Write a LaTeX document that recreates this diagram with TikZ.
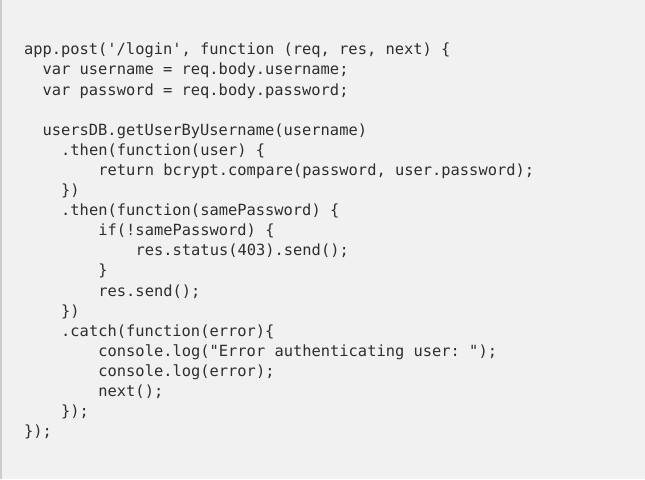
\documentclass[tikz,border=0pt]{standalone}
\usepackage{fontspec}
\setmonofont{DejaVu Sans Mono}
\definecolor{bgc}{HTML}{F1F1F1}
\definecolor{edgec}{HTML}{CCCCCC}
\definecolor{codec}{HTML}{2E2E2E}
\tikzset{
  codeline/.style={anchor=base west, inner sep=0pt, outer sep=0pt, text=codec,
    font=\ttfamily\fontsize{11.55}{14}\selectfont}
}
\newcommand{\cw}{9.3}
\newcommand{\lh}{20.1}
\begin{document}
\begin{tikzpicture}[x=0.75pt,y=-0.75pt]
\fill[bgc] (0,0) rectangle (645,479);
\fill[edgec] (0,0) rectangle (1.6,479);
\useasboundingbox (0,0) rectangle (645,479);
\node[codeline] (l1)  at ({24+\cw*0},{54.8+\lh*0})  {app.post('/login', function (req, res, next) \{};
\node[codeline] (l2)  at ({24+\cw*2},{54.8+\lh*1})  {var username = req.body.username;};
\node[codeline] (l3)  at ({24+\cw*2},{54.8+\lh*2})  {var password = req.body.password;};
\node[codeline] (l5)  at ({24+\cw*2},{54.8+\lh*4})  {usersDB.getUserByUsername(username)};
\node[codeline] (l6)  at ({24+\cw*4},{54.8+\lh*5})  {.then(function(user) \{};
\node[codeline] (l7)  at ({24+\cw*8},{54.8+\lh*6})  {return bcrypt.compare(password, user.password);};
\node[codeline] (l8)  at ({24+\cw*4},{54.8+\lh*7})  {\})};
\node[codeline] (l9)  at ({24+\cw*4},{54.8+\lh*8})  {.then(function(samePassword) \{};
\node[codeline] (l10) at ({24+\cw*8},{54.8+\lh*9})  {if(!samePassword) \{};
\node[codeline] (l11) at ({24+\cw*12},{54.8+\lh*10}) {res.status(403).send();};
\node[codeline] (l12) at ({24+\cw*8},{54.8+\lh*11}) {\}};
\node[codeline] (l13) at ({24+\cw*8},{54.8+\lh*12}) {res.send();};
\node[codeline] (l14) at ({24+\cw*4},{54.8+\lh*13}) {\})};
\node[codeline] (l15) at ({24+\cw*4},{54.8+\lh*14}) {.catch(function(error)\{};
\node[codeline] (l16) at ({24+\cw*8},{54.8+\lh*15}) {console.log("Error authenticating user: ");};
\node[codeline] (l17) at ({24+\cw*8},{54.8+\lh*16}) {console.log(error);};
\node[codeline] (l18) at ({24+\cw*8},{54.8+\lh*17}) {next();};
\node[codeline] (l19) at ({24+\cw*4},{54.8+\lh*18}) {\});};
\node[codeline] (l20) at ({24+\cw*0},{54.8+\lh*19}) {\});};
\end{tikzpicture}
\end{document}
